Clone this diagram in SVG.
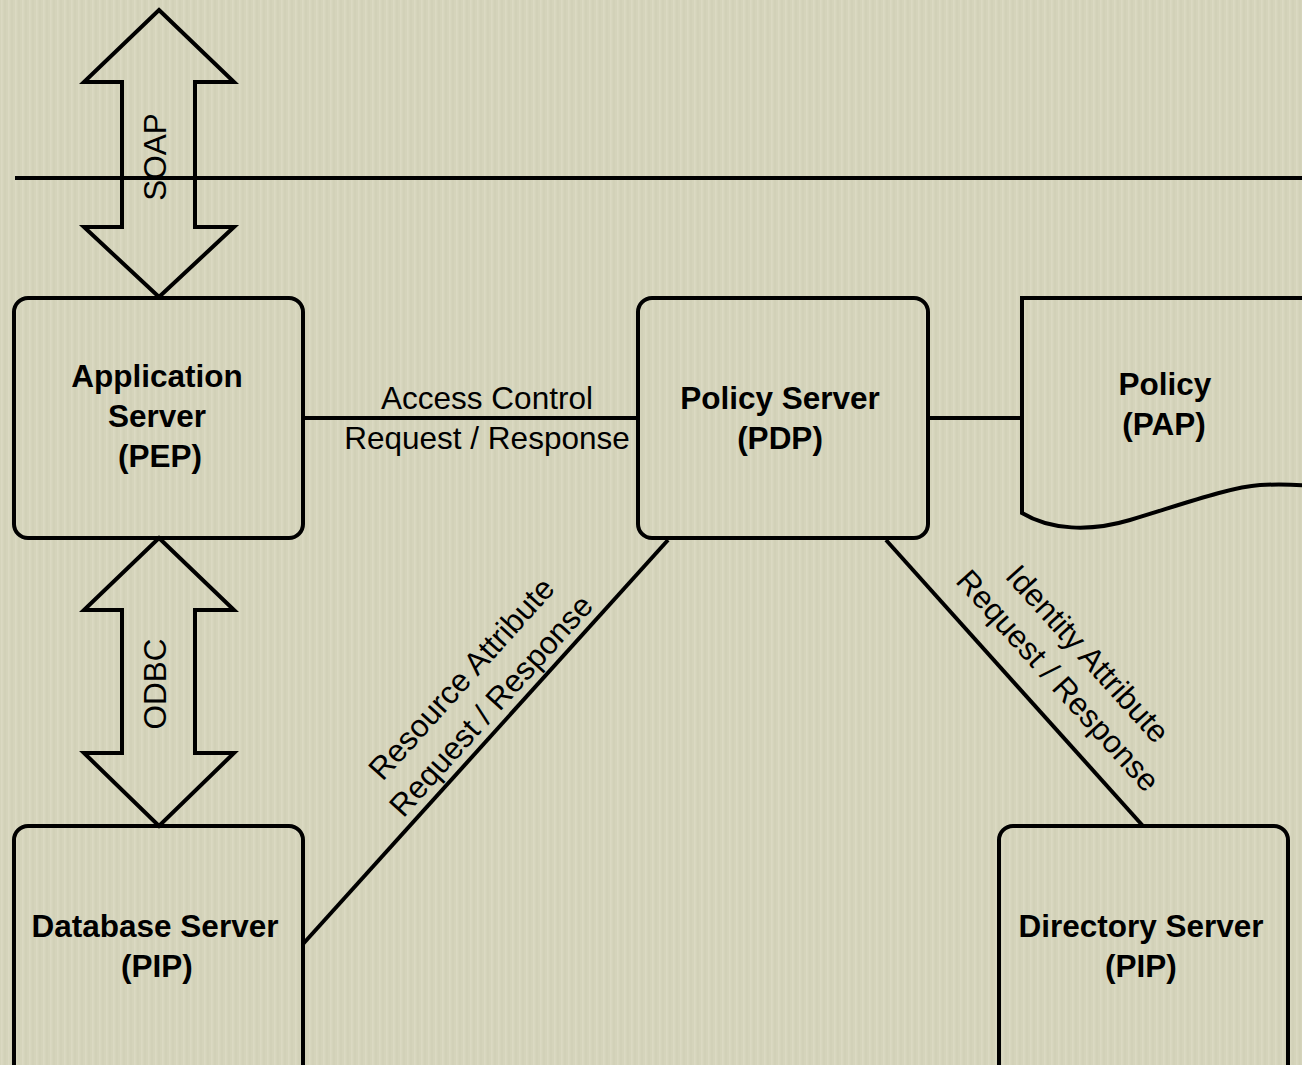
<svg xmlns="http://www.w3.org/2000/svg" width="1302" height="1065" viewBox="0 0 1302 1065">
<defs>
<pattern id="tex" width="7" height="40" patternUnits="userSpaceOnUse">
<rect width="7" height="40" fill="#d5d4bb"/>
<rect x="1" width="1.5" height="40" fill="#dcdbc4" opacity="0.8"/>
<rect x="4.5" width="1" height="40" fill="#cccab0" opacity="0.6"/>
</pattern>
<style>
.box{fill:none;stroke:#000;stroke-width:4}
.ln{fill:none;stroke:#000;stroke-width:4}
.bl{font-family:"Liberation Sans",Arial,sans-serif;font-weight:bold;font-size:31.5px;fill:#000;text-anchor:middle}
.rg{font-family:"Liberation Sans",Arial,sans-serif;font-size:31.5px;fill:#000;text-anchor:middle}
</style>
</defs>
<rect width="1302" height="1065" fill="url(#tex)"/>
<g id="connectors">
<line class="ln" x1="15" y1="178" x2="1302" y2="178" stroke-width="3.5"/>
<polygon class="ln" points="159,10 234,82 195,82 195,227 234,227 159,297 84,227 122,227 122,82 84,82"/>
<polygon class="ln" points="159,538 234,610 195,610 195,753 234,753 159,826 84,753 122,753 122,610 84,610"/>
<line class="ln" x1="303" y1="418" x2="638" y2="418"/>
<line class="ln" x1="928" y1="418" x2="1022" y2="418"/>
<line class="ln" x1="668" y1="540" x2="303" y2="944"/>
<line class="ln" x1="886" y1="540" x2="1143" y2="826"/>
<text class="rg" transform="translate(166,157) rotate(-90)" x="0" y="0">SOAP</text>
<text class="rg" transform="translate(166,684) rotate(-90)" x="0" y="0">ODBC</text>
<text class="rg" x="487" y="409">Access Control</text>
<text class="rg" x="487" y="449">Request / Response</text>
<g transform="translate(476,692) rotate(-47.9)">
<text class="rg" x="0" y="-9">Resource Attribute</text>
<text class="rg" x="0" y="31">Request / Response</text>
</g>
<g transform="translate(1073,667) rotate(48)">
<text class="rg" x="0" y="-9">Identity Attribute</text>
<text class="rg" x="0" y="31">Request / Response</text>
</g>
</g>
<g id="app-server">
<rect class="box" x="14" y="298" width="289" height="240" rx="14"/>
<text class="bl" x="157" y="387">Application</text>
<text class="bl" x="157" y="427">Server</text>
<text class="bl" x="160" y="467">(PEP)</text>
</g>
<g id="policy-server">
<rect class="box" x="638" y="298" width="290" height="240" rx="14"/>
<text class="bl" x="780" y="409">Policy Server</text>
<text class="bl" x="780" y="449">(PDP)</text>
</g>
<g id="policy-pap">
<path class="box" d="M1310,486 C1300,485 1280,484 1260,485 C1230,487 1180,505 1130,520 C1090,532 1050,530 1022,513 L1022,298 L1310,298"/>
<text class="bl" x="1165" y="395">Policy</text>
<text class="bl" x="1164" y="435">(PAP)</text>
</g>
<g id="database-server">
<rect class="box" x="14" y="826" width="289" height="260" rx="14"/>
<text class="bl" x="155" y="937">Database Server</text>
<text class="bl" x="157" y="977">(PIP)</text>
</g>
<g id="directory-server">
<rect class="box" x="999" y="826" width="289" height="260" rx="14"/>
<text class="bl" x="1141" y="937">Directory Server</text>
<text class="bl" x="1141" y="977">(PIP)</text>
</g>
</svg>
